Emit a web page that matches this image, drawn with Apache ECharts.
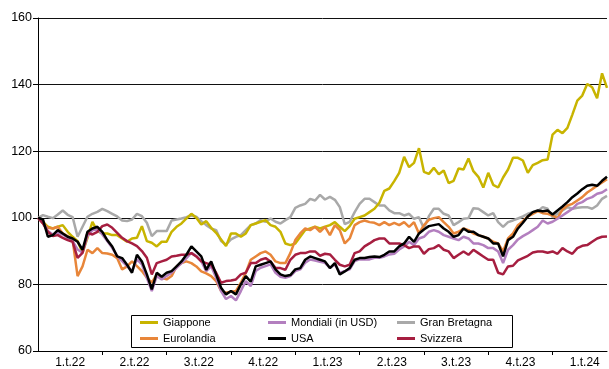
<!DOCTYPE html>
<html><head><meta charset="utf-8">
<script src="https://cdn.jsdelivr.net/npm/echarts@6/dist/echarts.min.js"></script>
<style>html,body{margin:0;padding:0;background:#fff}#c{width:609px;height:369px}</style>
</head><body><div id="c"></div>
<script>
const quarterLabels = ['1.t.22','2.t.22','3.t.22','4.t.22','1.t.23','2.t.23','3.t.23','4.t.23','1.t.24'];

const giappone = [100,98.8,97.3,96.8,97.3,97.8,95.8,94.3,93,89.5,94,98.8,96,95.3,95.3,94.8,94.8,93.8,92.8,93.8,94,97.5,93,92.5,91.4,92.8,92.8,95.8,97.3,98.3,99.8,101.2,100,98,99,97,95.5,93.5,91.5,95.3,95.3,94.3,95.3,97.8,98.3,98.8,99.3,97.8,97.3,95.8,92.3,91.8,92.3,94.3,96.3,96.8,97.3,96.8,97.3,97.8,98.7,97.3,96,97.5,99.7,100.2,100.7,101.7,102.7,104.5,108.1,108.8,111,113.5,118.3,115.2,116.5,120.9,113.8,113.2,115,113.1,114.2,110.4,111.1,114.8,114.5,117.8,114,112.3,109.1,113.5,109.9,109.1,112.1,114.5,118,118,117.2,113.5,115.8,116.5,117.3,117.5,125,126.4,125.4,127,131,135.2,136.7,140.2,139.2,135.9,143.4,139];

const granBretagna = [100,100.8,100.3,99.9,101,102.2,100.9,100.2,94.3,97.3,100.3,101.2,101.8,102.7,102,101.2,100.4,99.2,99,99.5,101.2,100.5,98.5,94.5,96,96,96,99.2,99.5,99.8,100.2,100.7,100.3,99,97.8,96.8,96.3,93,91.9,93.5,94.3,94.8,96.3,97.8,98.3,99.3,98.8,99.8,98.8,98.3,99.3,100.2,103,103.7,104.2,105.7,105.2,106.9,105.5,106.3,105.4,103.2,98.1,98.8,101.7,104.2,105.7,105.7,104.7,103.7,103.7,102.2,101.4,101.4,100.7,101.2,99.7,100.2,96.8,100.5,102.7,102.7,101.2,100.7,97.8,98.7,99.7,99.9,102.9,102.7,101.7,100.7,101.4,98.7,97.3,98.7,99.2,99.8,100.4,101.2,101.7,102,103.2,102.7,100.2,101.2,102.2,103.2,102.7,103,103.2,103.2,102.7,103.7,105.7,106.6];

const eurolandia = [100,98.3,97,96.8,97.3,95.3,94.5,93.3,82.5,85.4,90.4,89.4,90.9,89.4,89.3,88.9,87.9,84.5,85.4,86.9,85.5,84,82,80.5,83,82,81.5,82.5,85.4,86.4,86.9,86.4,85.4,83.9,83.3,82.5,81,78,77.5,77.8,78,80.5,83.5,87.4,88.4,89.4,89.9,88.9,86.9,86.4,86.4,89.4,93.3,95.3,96.8,96.3,97.3,95.8,97.3,94.8,97.8,96.3,92.3,93.8,97.8,98.7,99.2,98.7,98.5,97.8,98.7,97.8,98.5,97.8,98.7,97.3,98.7,95.3,97.8,99.4,99.9,100.2,98.7,97.3,95.3,95.8,96.8,96.3,95.3,94.8,94.3,93.8,92.8,92.3,89.9,93.8,95.3,97.8,99,100.4,101.2,102,101.4,101.2,100.7,99.9,102.5,103.7,104.2,105.2,106.2,107.6,108.6,109.6,110.6,111.6];

const usa = [100,99.5,94.3,94.8,96.3,95.3,94.3,93.8,92.8,90.4,95.8,96.8,97.3,95.8,93.3,91.4,88.4,87.9,85.9,83.5,88.9,86.9,83,78.5,83.5,82.3,83.5,84,85.4,86.9,88.9,91.4,89.9,88.4,84.4,86.9,83,79,77,78,77,80,82.5,80.8,85.4,85.9,86.4,86.9,84.5,83,82.5,82.8,84.5,84.9,87.4,88.4,87.9,87.4,86.9,84.9,86.4,83,83.9,84.9,87.4,87.9,87.9,88.2,88.4,88.2,88.9,89.9,89.9,91.4,92.3,94.3,92.8,95.3,96.5,97.5,97.8,98.1,96.8,95.8,94.3,94.8,96.8,95.8,95.8,94.8,94.3,93.8,92.3,92.3,88.4,93.3,94.3,96.8,98.5,100.4,101.7,102.2,102,102.2,101,102.2,103.4,104.7,106.2,107.3,108.6,109.6,109.9,109.6,111.1,112.3];

const mondiali = [100,98.5,96,95,95.5,95,94,93,90.5,89.5,94.5,96.3,96.5,95,93,91,88.5,87,85.5,84,87.5,86,82,78,82.5,81.5,82.5,83.5,85,86.4,87.9,89.5,88.5,87,84,85.5,82,78,75.6,76.5,75.2,78,81,79.5,84,85,85.5,86,83.5,82.3,82,82.5,84,84.5,86.5,87.5,87.2,86.8,86.5,85,86,83.5,84,84.5,87,87.5,87.5,87.5,88,88,88.4,89,89.2,90.5,91.4,92.8,91.8,93.8,94.3,95.8,96.3,95.8,94.8,94.3,93.8,93.3,94.3,93.8,92.3,92.3,91.8,90.9,90.9,89.9,86.4,90.4,91.8,93.5,94.5,95.3,96.3,97.3,99.2,98.3,98.8,99.7,100.7,101.7,102.7,104.2,104.7,105.7,106.2,107.2,107.6,108.6];

const svizzera = [100,98.3,95.8,94.5,94.8,94,93.3,92.8,88,89.5,95.5,95,95.8,97.5,98,97,95.5,94,93,92.3,91.5,90,88,83,86.4,86.9,87.4,88.4,88.6,88.9,88.9,89.4,88.4,86.9,86.4,85.9,83.5,80.5,81,81.2,81.5,83,83.5,86.4,86.4,87.4,87.9,86.9,84.9,84.9,84.4,87.4,88.9,89.4,89.4,89.9,89.9,88.6,89.2,89,87.4,85.9,85.4,85.9,89.4,89.9,91.4,92.3,93.3,93.8,93.8,92.3,92.3,92.3,91.8,90.9,91.4,91.4,89.2,90.6,90.9,91.8,90.4,89.9,87.9,88.9,89.9,88.9,90.4,89.4,88.4,87.4,87.4,83.5,83,85.4,85.6,87.2,87.9,88.6,89.6,89.9,89.9,89.5,89.9,89.2,90.9,89.9,89.2,90.9,91.6,91.8,92.8,93.8,94.3,94.4];

// weekly categories starting at end of 2021
const N = giappone.length;
const categories = [];
const t0 = Date.UTC(2021, 11, 31);
for (let i = 0; i < N; i++) categories.push(new Date(t0 + i * 7 * 86400000).toISOString().slice(0, 10));
const WEEKS_PER_Q = 13;
const labelAt = {};
quarterLabels.forEach((q, k) => { labelAt[k * WEEKS_PER_Q + 6] = q; });

const FONT = 'Liberation Sans, Arial, sans-serif';
const seriesDefs = [
  ['Gran Bretagna', granBretagna, '#A9A9A9'],
  ['Giappone', giappone, '#C8B400'],
  ['Eurolandia', eurolandia, '#E8863A'],
  ['Mondiali (in USD)', mondiali, '#B37FBF'],
  ['Svizzera', svizzera, '#A61E40'],
  ['USA', usa, '#000000']
];

const chart = echarts.init(document.getElementById('c'), null, {renderer: 'canvas'});
const legendBase = {
  orient: 'vertical', top: 316, padding: 0, itemGap: 3,
  itemWidth: 18, itemHeight: 3, icon: 'rect', z: 6,
  textStyle: {fontFamily: FONT, fontSize: 11, color: '#000', lineHeight: 13}
};
chart.setOption({
  animation: false,
  backgroundColor: '#fff',
  grid: {left: 38, top: 18, right: 2, bottom: 13, containLabel: false},
  xAxis: {
    type: 'category', data: categories, boundaryGap: false,
    axisLine: {lineStyle: {color: '#000', width: 1}},
    axisTick: {show: true, length: 4, lineStyle: {color: '#000'},
      interval: (idx) => idx > 0 && idx % WEEKS_PER_Q === 0},
    axisLabel: {
      interval: (idx) => labelAt[idx] !== undefined,
      formatter: (v, idx) => labelAt[idx] || '',
      fontFamily: FONT, fontSize: 12, color: '#000', margin: 6, padding: [0, 0, 0, 5]
    },
    splitLine: {show: false}
  },
  yAxis: {
    type: 'value', min: 60, max: 160, interval: 20,
    axisLine: {show: true, lineStyle: {color: '#000', width: 1}},
    axisTick: {show: true, length: 5, lineStyle: {color: '#000'}},
    axisLabel: {fontFamily: FONT, fontSize: 12.5, color: '#000', margin: 6},
    splitLine: {show: true, lineStyle: {color: '#111', width: 1}}
  },
  legend: [
    Object.assign({}, legendBase, {left: 140, data: ['Giappone', 'Eurolandia']}),
    Object.assign({}, legendBase, {left: 268, data: ['Mondiali (in USD)', 'USA']}),
    Object.assign({}, legendBase, {left: 397, data: ['Gran Bretagna', 'Svizzera']})
  ],
  graphic: [{
    type: 'rect', z: 5,
    shape: {x: 131.5, y: 315.5, width: 381, height: 32},
    style: {fill: '#fff', stroke: '#000', lineWidth: 1}
  }],
  series: seriesDefs.map(([name, data, color]) => ({
    name, type: 'line', data, color, symbol: 'none', showSymbol: false,
    lineStyle: {color, width: 2.5}, itemStyle: {color},
    emphasis: {disabled: true}
  }))
});
</script>
</body></html>
